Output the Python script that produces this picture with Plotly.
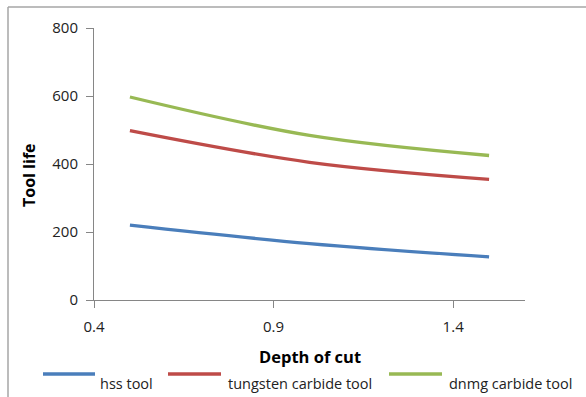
import plotly.graph_objects as go

# Depth of cut (mm) and measured tool life for each tool
depth_of_cut = [0.5, 1.0, 1.5]
hss_tool = [220, 166, 127]
tungsten_carbide_tool = [498, 405, 355]
dnmg_carbide_tool = [597, 484, 425]

series_names = ["hss tool", "tungsten carbide tool", "dnmg carbide tool"]
series_values = [hss_tool, tungsten_carbide_tool, dnmg_carbide_tool]
series_colors = ["#4A7EBB", "#BE4B48", "#98B954"]

x_ticks = [0.4, 0.9, 1.4]
y_ticks = [0, 200, 400, 600, 800]

W, H = 586, 397
L, R, T, B = 94, 61, 28, 97
plot_w = W - L - R
plot_h = H - T - B


def px_x(p):
    return (p - L) / plot_w


def px_y(p):
    return (H - B - p) / plot_h


fig = go.Figure()
for name, vals, color in zip(series_names, series_values, series_colors):
    fig.add_trace(go.Scatter(
        x=depth_of_cut, y=vals, name=name, mode="lines", showlegend=False,
        line=dict(color=color, width=3.3, shape="spline", smoothing=1.0),
    ))

font_family = "'Open Sans', sans-serif"
tick_font = dict(family=font_family, size=15, color="#222")

axis_common = dict(
    showgrid=False, zeroline=False, showline=True,
    linecolor="#868686", linewidth=1,
    ticks="outside", ticklen=7, tickcolor="#868686", tickwidth=1,
    tickfont=tick_font,
)

fig.update_xaxes(range=[0.4, 1.6], tickvals=x_ticks,
                 ticktext=[str(v) for v in x_ticks],
                 ticklabelstandoff=6, **axis_common)
fig.update_yaxes(range=[0, 800], tickvals=y_ticks,
                 ticklabelstandoff=5, **axis_common)

# Axis titles
fig.add_annotation(text="<b>Depth of cut</b>", xref="paper", yref="paper",
                   x=px_x(310), y=px_y(356), xanchor="center", yanchor="middle",
                   showarrow=False,
                   font=dict(family=font_family, size=16.5, color="#000"))
fig.add_annotation(text="<b>Tool life</b>", xref="paper", yref="paper",
                   x=px_x(29), y=px_y(175), xanchor="center", yanchor="middle",
                   textangle=-90, showarrow=False,
                   font=dict(family=font_family, size=16, color="#000"))

# Legend row below the axis title
legend_items = [
    (43, 95, 98),    # line start, line end, text start (px)
    (168, 221, 226),
    (389, 442, 447),
]
for (x0, x1, tx), name, color in zip(legend_items, series_names, series_colors):
    fig.add_shape(type="line", xref="paper", yref="paper",
                  x0=px_x(x0), x1=px_x(x1), y0=px_y(374), y1=px_y(374),
                  line=dict(color=color, width=3.5))
    fig.add_annotation(text=name, xref="paper", yref="paper",
                       x=px_x(tx), y=px_y(383), xanchor="left", yanchor="middle",
                       showarrow=False,
                       font=dict(family=font_family, size=14.5, color="#222"))

# Chart-area frame (left and top edges)
frame = dict(type="line", xref="paper", yref="paper",
             line=dict(color="#a6a6a6", width=1.5))
fig.add_shape(x0=px_x(8), y0=px_y(7), x1=px_x(600), y1=px_y(7), **frame)
fig.add_shape(x0=px_x(8), y0=px_y(7), x1=px_x(8), y1=px_y(410), **frame)

fig.update_layout(
    width=W, height=H,
    margin=dict(l=L, r=R, t=T, b=B, autoexpand=False),
    paper_bgcolor="white", plot_bgcolor="white",
    font=dict(family=font_family),
    showlegend=False,
)

fig.write_html("out.html")
